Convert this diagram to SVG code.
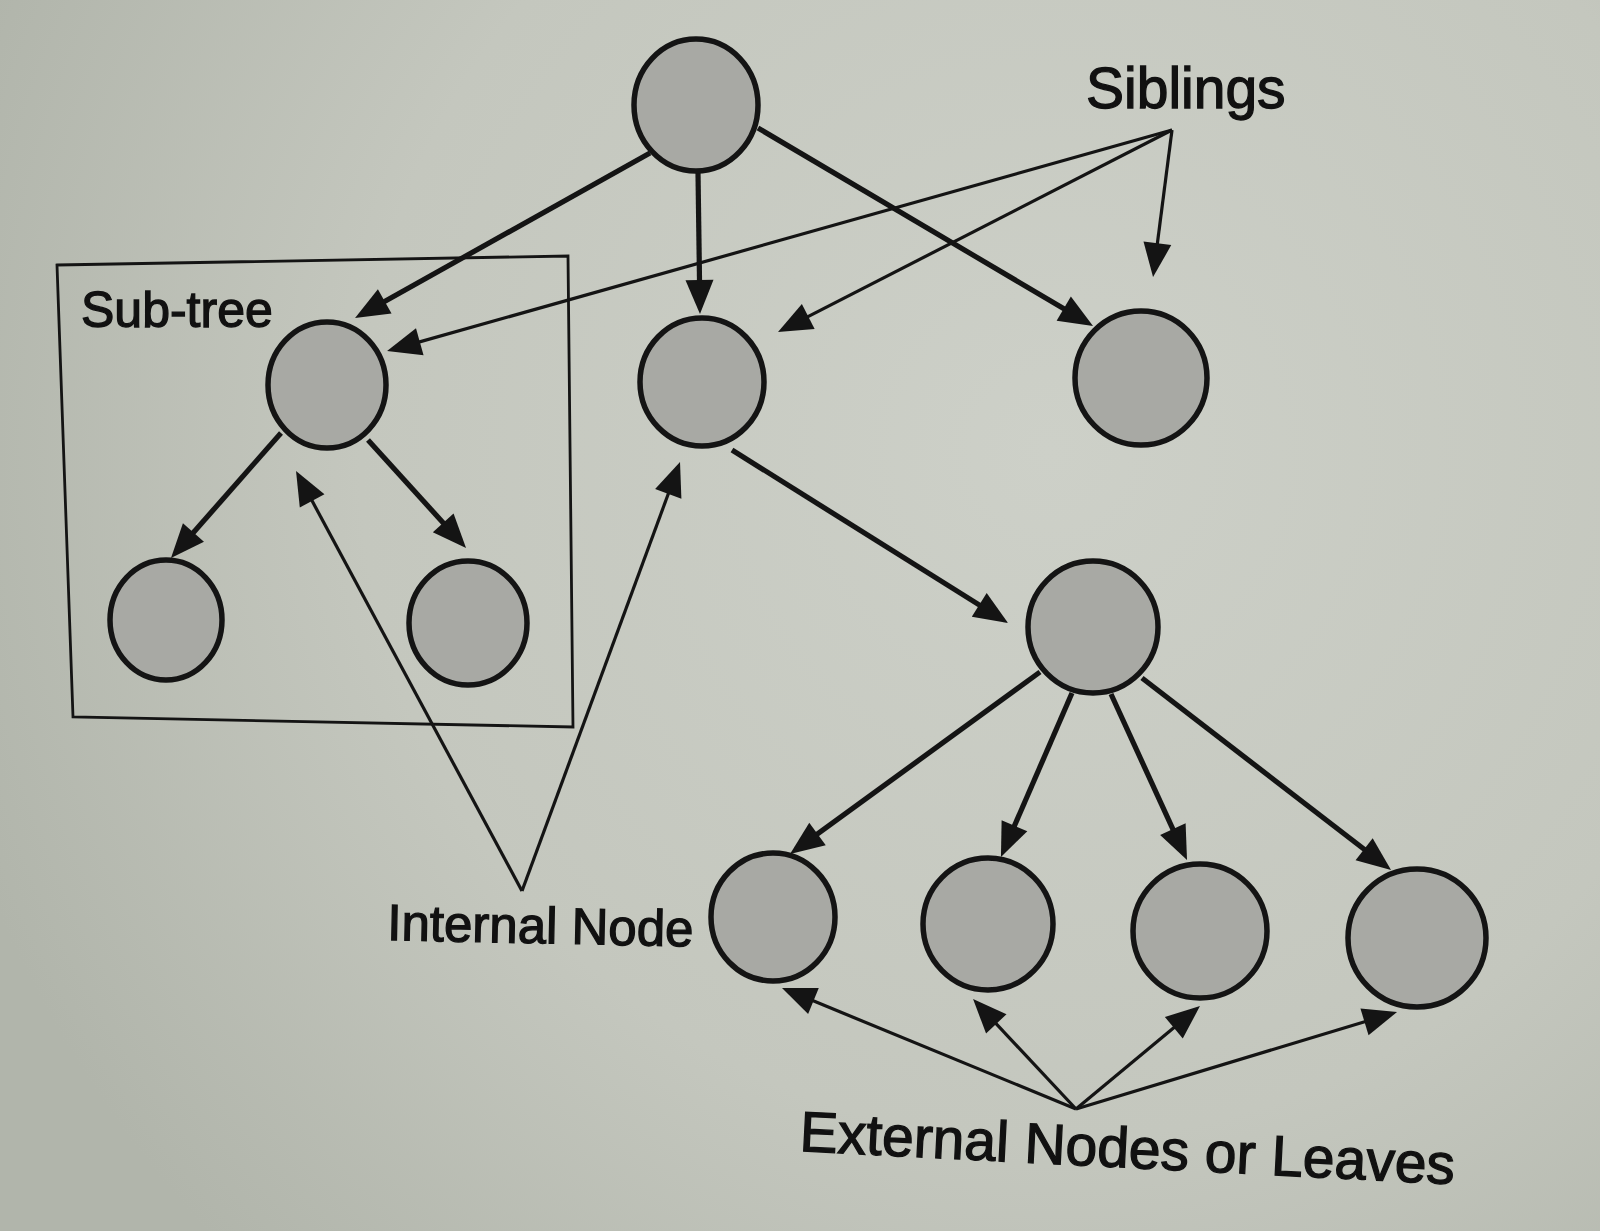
<svg xmlns="http://www.w3.org/2000/svg" width="1600" height="1231" viewBox="0 0 1600 1231">
<defs>
<radialGradient id="bg" cx="1050" cy="450" r="1150" gradientUnits="userSpaceOnUse">
<stop offset="0" stop-color="#cdd0c8"/>
<stop offset="0.6" stop-color="#c4c7be"/>
<stop offset="1" stop-color="#b1b5ab"/>
</radialGradient>
<marker id="ah" markerUnits="userSpaceOnUse" markerWidth="36" markerHeight="30" refX="14" refY="14" orient="auto" overflow="visible">
<path d="M0,0 L34,14 L0,28 z" fill="#141414"/>
</marker>
</defs>
<style>
.node{fill:#a8a9a4;stroke:#141414;stroke-width:5.5}
.edge{stroke:#141414;stroke-width:5.2;fill:none;marker-end:url(#ah)}
.ptr{stroke:#141414;stroke-width:3.2;fill:none;marker-end:url(#ah)}
.lbl{font-family:"Liberation Sans",Arial,Helvetica,sans-serif;fill:#111;stroke:#111;stroke-width:1.3}
.box{fill:none;stroke:#141414;stroke-width:2.8}
</style>
<rect x="0" y="0" width="1600" height="1231" fill="url(#bg)"/>

<g id="subtree-box">
<polygon class="box" points="57,265 568,256 573,727 73,717"/>
<text class="lbl" x="81" y="327" font-size="50">Sub-tree</text>
</g>

<g id="connectors">
<line class="edge" x1="650" y1="153" x2="372.5" y2="308.2"/>
<line class="edge" x1="698" y1="172" x2="699.7" y2="294"/>
<line class="edge" x1="758" y1="128" x2="1075.8" y2="315.8"/>
<line class="edge" x1="281" y1="433" x2="184.2" y2="543"/>
<line class="edge" x1="368" y1="440" x2="452.6" y2="533.2"/>
<line class="edge" x1="732" y1="450" x2="991.1" y2="612.4"/>
<line class="edge" x1="1040" y1="672" x2="806.2" y2="842.2"/>
<line class="edge" x1="1072" y1="693" x2="1008.9" y2="838.6"/>
<line class="edge" x1="1111" y1="694" x2="1178.7" y2="841.8"/>
<line class="edge" x1="1142" y1="678" x2="1375.2" y2="857.8"/>
<line class="ptr" x1="1172" y1="130" x2="406.3" y2="345.6"/>
<line class="ptr" x1="1172" y1="130" x2="795.8" y2="322.9"/>
<line class="ptr" x1="1172" y1="130" x2="1155.6" y2="257.2"/>
<line class="ptr" x1="522" y1="891" x2="305.5" y2="488.6"/>
<line class="ptr" x1="522" y1="891" x2="673.1" y2="480.8"/>
<line class="ptr" x1="1076" y1="1109" x2="800.5" y2="995.6"/>
<line class="ptr" x1="1076" y1="1109" x2="986.7" y2="1013.6"/>
<line class="ptr" x1="1076" y1="1109" x2="1184.6" y2="1018.8"/>
<line class="ptr" x1="1076" y1="1109" x2="1377.9" y2="1017.8"/>
</g>

<g id="root"><ellipse class="node" cx="696" cy="105" rx="62" ry="66"/></g>
<g id="child-left"><ellipse class="node" cx="327" cy="385" rx="59" ry="63"/></g>
<g id="child-middle"><ellipse class="node" cx="702" cy="382" rx="62" ry="64"/></g>
<g id="child-right"><ellipse class="node" cx="1141" cy="378" rx="66" ry="67"/></g>
<g id="subtree-leaf-left"><ellipse class="node" cx="166" cy="620" rx="56" ry="60"/></g>
<g id="subtree-leaf-right"><ellipse class="node" cx="468" cy="623" rx="59" ry="62"/></g>
<g id="internal-lower"><ellipse class="node" cx="1093" cy="627" rx="65" ry="66"/></g>
<g id="leaf-1"><ellipse class="node" cx="773" cy="917" rx="62" ry="64"/></g>
<g id="leaf-2"><ellipse class="node" cx="988" cy="924" rx="65" ry="66"/></g>
<g id="leaf-3"><ellipse class="node" cx="1200" cy="931" rx="67" ry="67"/></g>
<g id="leaf-4"><ellipse class="node" cx="1417" cy="938" rx="69" ry="69"/></g>

<g id="labels">
<text class="lbl" x="1086" y="108" font-size="57">Siblings</text>
<text class="lbl" x="387" y="940" font-size="51" transform="rotate(1.2 387 940)">Internal Node</text>
<text class="lbl" x="799" y="1151" font-size="57" transform="rotate(2.9 799 1151)">External Nodes or Leaves</text>
</g>
</svg>
